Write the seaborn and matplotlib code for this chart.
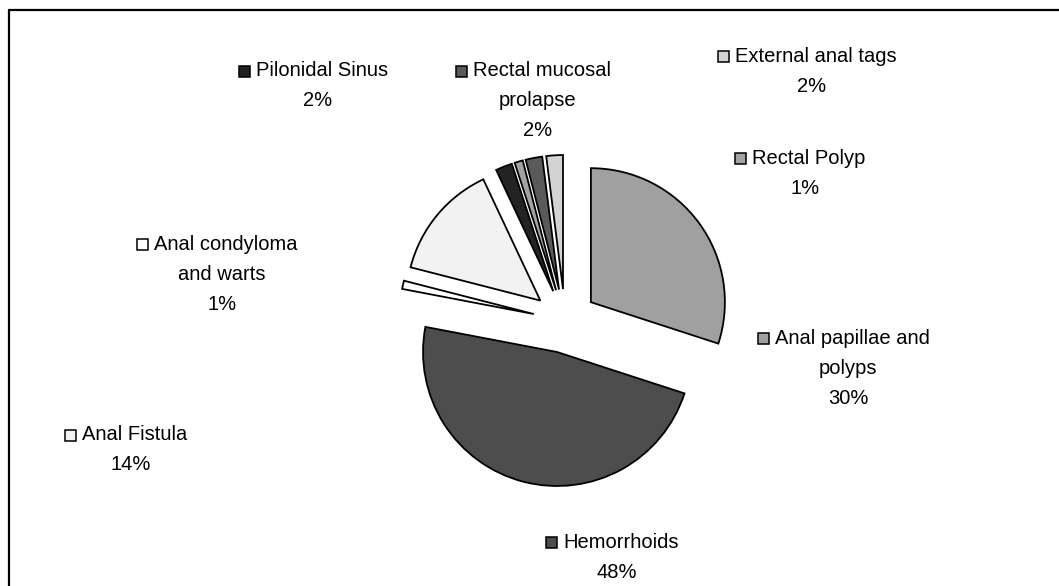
import matplotlib
matplotlib.use("Agg")
import matplotlib.pyplot as plt
from matplotlib.patches import Rectangle
from matplotlib.lines import Line2D
import seaborn as sns

# Diagnoses, clockwise from 12 o'clock
categories = [
    "Anal papillae and polyps",
    "Hemorrhoids",
    "Anal condyloma and warts",
    "Anal Fistula",
    "Pilonidal Sinus",
    "Rectal Polyp",
    "Rectal mucosal prolapse",
    "External anal tags",
]
label_lines = [
    ["Anal papillae and", "polyps"],
    ["Hemorrhoids"],
    ["Anal condyloma", "and warts"],
    ["Anal Fistula"],
    ["Pilonidal Sinus"],
    ["Rectal Polyp"],
    ["Rectal mucosal", "prolapse"],
    ["External anal tags"],
]
shares = [30, 48, 1, 14, 2, 1, 2, 2]
fills = ["#a0a0a0", "#4d4d4d", "#ffffff", "#f2f2f2",
         "#232323", "#a3a3a3", "#5a5a5a", "#d3d3d3"]

# Label block placement: centre x and first-line y (pixels from top)
label_pos = [
    (848, 338), (617, 542), (222, 244), (131, 435),
    (318, 71), (805, 158), (538, 71), (812, 56),
]

W, H = 1059, 586
sns.set_style("white")
plt.rcParams["font.family"] = ["Liberation Sans", "DejaVu Sans"]

fig = plt.figure(figsize=(W / 100, H / 100), dpi=100)
ax = fig.add_axes([0, 0, 1, 1])

ax.pie(
    shares,
    colors=fills,
    startangle=90,
    counterclock=False,
    explode=[32] * len(shares),
    center=(565, H - 321),
    radius=134,
    wedgeprops=dict(edgecolor="black", linewidth=1.3),
)
ax.set_xlim(0, W)
ax.set_ylim(0, H)
ax.set_aspect("equal")
ax.axis("off")

fs = 14.5
line_gap = 30
msize = 11
mgap = 6
first_shift = 4
renderer = fig.canvas.get_renderer()

for lines, share, color, (cx, y1) in zip(label_lines, shares, fills, label_pos):
    rows = lines + [f"{share}%"]
    for i, row in enumerate(rows):
        y = H - (y1 + i * line_gap)
        if i == 0:
            t = ax.text(cx + first_shift, y, row, ha="center",
                        va="center", fontsize=fs, color="black")
            bb = t.get_window_extent(renderer=renderer)
            ax.add_patch(Rectangle((bb.x0 - mgap - msize, y - msize / 2),
                                   msize, msize, facecolor=color,
                                   edgecolor="black", linewidth=1.1))
        else:
            ax.text(cx, y, row, ha="center", va="center", fontsize=fs,
                    color="black")

# Chart area frame (left and top edges)
fig.add_artist(Line2D([8.5 / W, 8.5 / W], [0, 1 - 10 / H],
                      transform=fig.transFigure, color="black", linewidth=1.6))
fig.add_artist(Line2D([8.5 / W, 1], [1 - 10 / H, 1 - 10 / H],
                      transform=fig.transFigure, color="black", linewidth=1.6))

fig.savefig("out.png", dpi=100, facecolor="white")
